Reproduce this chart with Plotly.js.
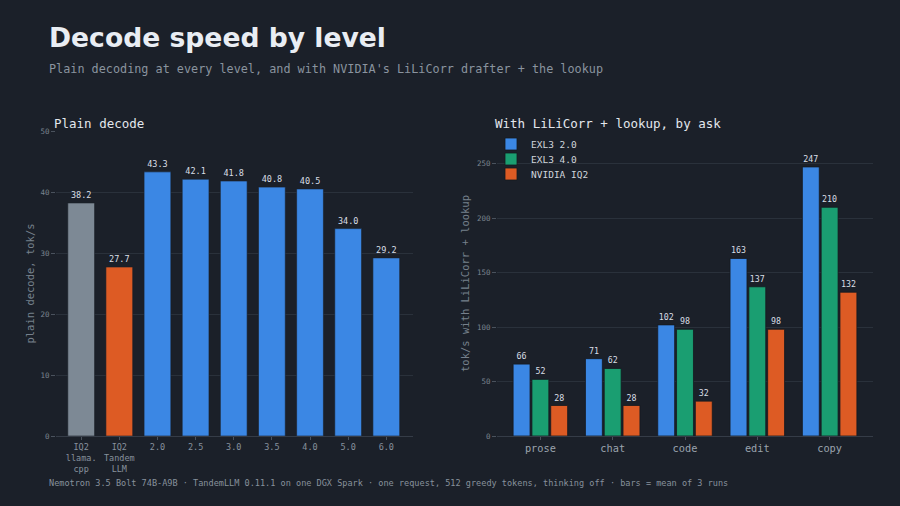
<!DOCTYPE html>
<html>
<head>
<meta charset="utf-8">
<script src="https://cdn.plot.ly/plotly-3.0.1.min.js"></script>
<style>
html,body{margin:0;padding:0;background:#1b2029;}
#chart{width:900px;height:506px;}
</style>
</head>
<body>
<div id="chart"></div>
<script>
// ---- data ----
const plainLabels = ["IQ2<br>llama.<br>cpp", "IQ2<br>Tandem<br>LLM", "2.0", "2.5", "3.0", "3.5", "4.0", "5.0", "6.0"];
const plainValues = [38.2, 27.7, 43.3, 42.1, 41.8, 40.8, 40.5, 34.0, 29.2];
const plainColors = ["#7d8995", "#dd5b24", "#3b87e4", "#3b87e4", "#3b87e4", "#3b87e4", "#3b87e4", "#3b87e4", "#3b87e4"];

const askCategories = ["prose", "chat", "code", "edit", "copy"];
const exl3_20 = [66, 71, 102, 163, 247];
const exl3_40 = [52, 62, 98, 137, 210];
const nvidiaIQ2 = [28, 28, 32, 98, 132];
const seriesNames = ["EXL3 2.0", "EXL3 4.0", "NVIDIA IQ2"];

const bg = "#1b2029";
const grid = "#2a313b";
const mono = "DejaVu Sans Mono, monospace";
const tickCol = "#87919d";
const labelCol = "#d9dee5";

const traces = [
  {
    type: "bar", x: plainLabels, y: plainValues, xaxis: "x", yaxis: "y",
    marker: {color: plainColors, line: {color: bg, width: 0.6}},
    text: plainValues.map(v => v.toFixed(1)), textposition: "outside",
    textfont: {family: mono, size: 8.5, color: labelCol},
    cliponaxis: false, showlegend: false, hoverinfo: "x+y"
  },
  {
    type: "bar", name: seriesNames[0], x: askCategories, y: exl3_20, xaxis: "x2", yaxis: "y2",
    legend: "legend",
    marker: {color: "#3b87e4", line: {color: "#15191f", width: 0.8}},
    text: exl3_20.map(String), textposition: "outside",
    textfont: {family: mono, size: 8.3, color: labelCol}, cliponaxis: false
  },
  {
    type: "bar", name: seriesNames[1], x: askCategories, y: exl3_40, xaxis: "x2", yaxis: "y2",
    legend: "legend2",
    marker: {color: "#1a9e71", line: {color: "#15191f", width: 0.8}},
    text: exl3_40.map(String), textposition: "outside",
    textfont: {family: mono, size: 8.3, color: labelCol}, cliponaxis: false
  },
  {
    type: "bar", name: seriesNames[2], x: askCategories, y: nvidiaIQ2, xaxis: "x2", yaxis: "y2",
    legend: "legend3",
    marker: {color: "#dd5b24", line: {color: "#15191f", width: 0.8}},
    text: nvidiaIQ2.map(String), textposition: "outside",
    textfont: {family: mono, size: 8.3, color: labelCol}, cliponaxis: false
  }
];

const yBottom = (506 - 436) / 506;
const yTop = (506 - 131) / 506;

function legendAt(py) {
  return {
    x: 491/900, y: 1 - py/506, xanchor: "left", yanchor: "middle",
    bgcolor: "rgba(0,0,0,0)", font: {family: mono, size: 9.5, color: "#d0d5dc"},
    tracegroupgap: 0, itemwidth: 30
  };
}

const layout = {
  width: 900, height: 506,
  paper_bgcolor: bg, plot_bgcolor: bg,
  margin: {l: 0, r: 0, t: 0, b: 0},
  barmode: "group", bargap: 0.22, bargroupgap: 0.1,
  font: {family: mono, color: tickCol},
  showlegend: true,
  legend: legendAt(144),
  legend2: legendAt(159),
  legend3: legendAt(174),
  xaxis: {
    domain: [56/900, 413/900], anchor: "y", type: "category",
    range: [-0.66, 8.7], showgrid: false, zeroline: false,
    ticks: "outside", ticklen: 3, tickcolor: "#4a525d",
    tickfont: {family: mono, size: 8.5, color: tickCol},
    showline: false, fixedrange: true
  },
  yaxis: {
    domain: [yBottom, yTop], anchor: "x",
    range: [0, 50], dtick: 10, showgrid: true, gridcolor: grid, gridwidth: 1,
    zeroline: true, zerolinecolor: "#353c47", zerolinewidth: 1,
    ticks: "outside", ticklen: 4, tickcolor: "#4a525d",
    tickfont: {family: mono, size: 7.5, color: "#7a848f"},
    title: {text: "plain decode, tok/s", font: {family: mono, size: 10.5, color: "#76808c"}, standoff: 3},
    showline: false
  },
  xaxis2: {
    domain: [497/900, 873/900], anchor: "y2", type: "category",
    range: [-0.6, 4.6], showgrid: false, zeroline: false,
    ticks: "outside", ticklen: 3, tickcolor: "#4a525d",
    tickfont: {family: mono, size: 10.3, color: "#9aa3ad"},
    showline: false
  },
  yaxis2: {
    domain: [yBottom, yTop], anchor: "x2",
    range: [0, 280], dtick: 50, showgrid: true, gridcolor: grid, gridwidth: 1,
    zeroline: true, zerolinecolor: "#353c47", zerolinewidth: 1,
    ticks: "outside", ticklen: 4, tickcolor: "#4a525d",
    tickfont: {family: mono, size: 7.5, color: "#7a848f"},
    title: {text: "tok/s with LiLiCorr + lookup", font: {family: mono, size: 10.5, color: "#76808c"}, standoff: 5},
    showline: false
  },
  annotations: [
    {xref: "paper", yref: "paper", x: 47/900, y: 1 - 37/506, xanchor: "left", yanchor: "middle",
     text: "<b>Decode speed by level</b>", showarrow: false,
     font: {family: "DejaVu Sans, sans-serif", size: 26.6, color: "#e9edf3"}},
    {xref: "paper", yref: "paper", x: 47/900, y: 1 - 69/506, xanchor: "left", yanchor: "middle",
     text: "Plain decoding at every level, and with NVIDIA's LiLiCorr drafter + the lookup", showarrow: false,
     font: {family: mono, size: 11.8, color: "#8a949f"}},
    {xref: "paper", yref: "paper", x: 52/900, y: 1 - 123/506, xanchor: "left", yanchor: "middle",
     text: "Plain decode", showarrow: false,
     font: {family: mono, size: 12.5, color: "#e3e7ed"}},
    {xref: "paper", yref: "paper", x: 493/900, y: 1 - 123/506, xanchor: "left", yanchor: "middle",
     text: "With LiLiCorr + lookup, by ask", showarrow: false,
     font: {family: mono, size: 12.5, color: "#e3e7ed"}},
    {xref: "paper", yref: "paper", x: 47/900, y: 1 - 483/506, xanchor: "left", yanchor: "middle",
     text: "Nemotron 3.5 Bolt 74B-A9B · TandemLLM 0.11.1 on one DGX Spark · one request, 512 greedy tokens, thinking off · bars = mean of 3 runs",
     showarrow: false, font: {family: mono, size: 8.55, color: "#87919c"}}
  ]
};

Plotly.newPlot("chart", traces, layout, {displayModeBar: false, staticPlot: true});
</script>
</body>
</html>
